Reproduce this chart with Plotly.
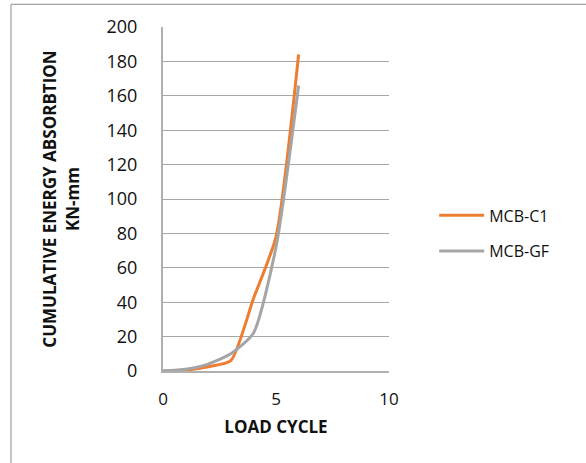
import plotly.graph_objects as go

cycles = [0, 1, 2, 3, 4, 5, 6]
mcb_c1 = [0, 0.5, 2.5, 6, 42, 78, 184]
mcb_gf = [0, 1, 4, 10, 22, 72, 166]

x_ticks = [0, 5, 10]
y_ticks = list(range(0, 201, 20))

fig = go.Figure()
fig.add_trace(go.Scatter(x=cycles, y=mcb_c1, mode="lines", name="MCB-C1", legendgroup="a",
                         line=dict(color="#ED7D31", width=3, shape="spline", smoothing=0.6)))
fig.add_trace(go.Scatter(x=cycles, y=mcb_gf, mode="lines", name="MCB-GF", legendgroup="b",
                         line=dict(color="#A5A5A5", width=3, shape="spline", smoothing=0.6)))

font = "'Open Sans', Lato, sans-serif"
fig.update_layout(
    width=586, height=463,
    margin=dict(l=163, r=197, t=27, b=92),
    paper_bgcolor="white", plot_bgcolor="white",
    font=dict(family=font, size=16, color="#111111"),
    showlegend=True,
    legend=dict(x=1.2, y=0.40, xanchor="left", yanchor="middle",
                font=dict(size=16, color="#111111"), tracegroupgap=12,
                itemwidth=45, bgcolor="rgba(0,0,0,0)"),
    xaxis=dict(range=[0, 10], tickvals=x_ticks, showgrid=False, zeroline=False,
               showline=True, linecolor="#B0B0B0", linewidth=2,
               ticks="", ticklabelstandoff=12,
               tickfont=dict(size=17),
               title=dict(text="<b>LOAD CYCLE</b>", font=dict(size=17), standoff=12)),
    yaxis=dict(range=[0, 200], tickvals=y_ticks, showgrid=True, gridcolor="#A6A6A6",
               gridwidth=1, zeroline=False, showline=True, linecolor="#B0B0B0",
               linewidth=2, ticks="", ticklabelstandoff=20,
               tickfont=dict(size=18),
               title=dict(text="<b>CUMULATIVE ENERGY ABSORBTION<br>KN-mm</b>",
                          font=dict(size=17), standoff=23)),
    shapes=[dict(type="rect", xref="paper", yref="paper",
                 x0=-0.6726, x1=2.0, y0=-1.0, y1=1.066,
                 line=dict(color="#8C8C8C", width=1), fillcolor="rgba(0,0,0,0)",
                 layer="below")],
)

fig.write_html("out.html")
